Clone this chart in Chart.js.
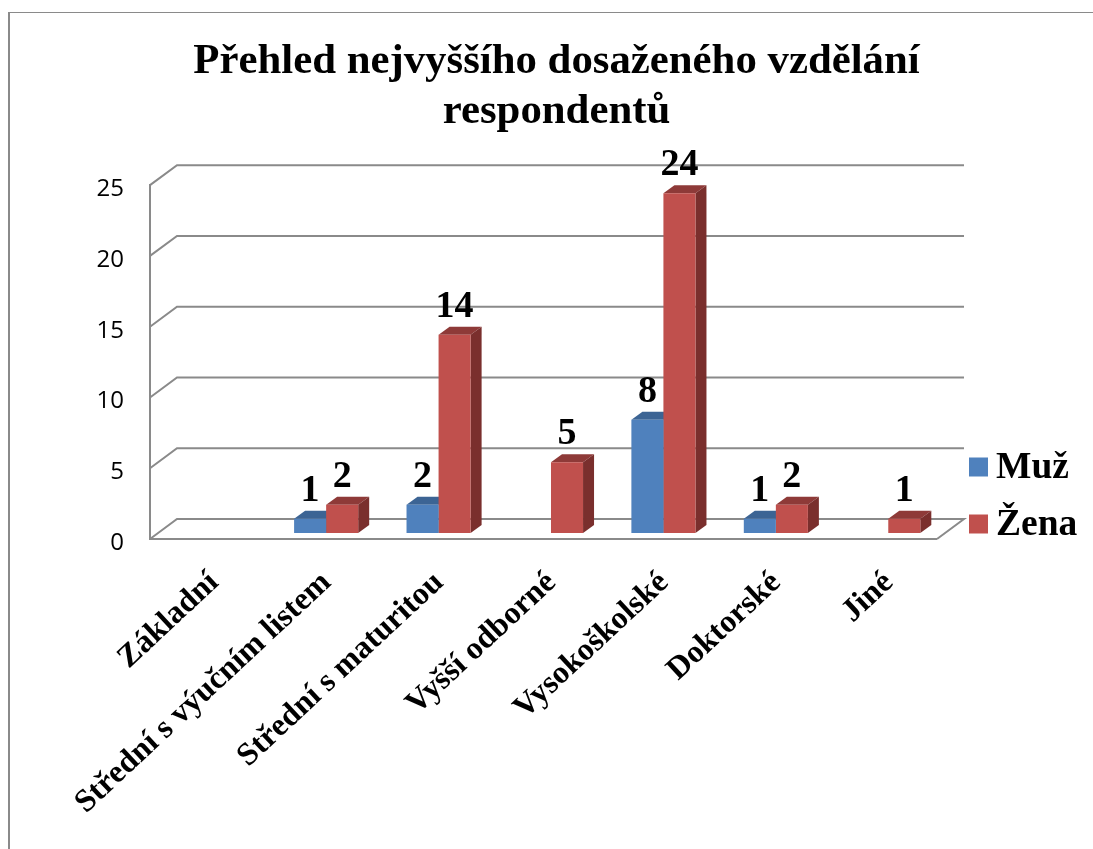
<!DOCTYPE html>
<html lang="cs">
<head>
<meta charset="utf-8">
<title>Přehled nejvyššího dosaženého vzdělání respondentů</title>
<script src="https://cdn.jsdelivr.net/npm/chart.js@4/dist/chart.umd.min.js"></script>
<style>
html,body{margin:0;padding:0;background:#fff;overflow:hidden;width:1093px;height:849px}
#frame{position:absolute;left:8px;top:12px;right:0;bottom:0;border-left:2px solid #8a8a8a;border-top:1px solid #8a8a8a}
#c{position:absolute;left:0;top:0}
</style>
</head>
<body>
<div id="frame"></div>
<canvas id="c" width="1093" height="849"></canvas>
<script>
const titleLines = ["Přehled nejvyššího dosaženého vzdělání", "respondentů"];
const categories = ["Základní", "Střední s výučním listem", "Střední s maturitou", "Vyšší odborné", "Vysokoškolské", "Doktorské", "Jiné"];
const muz = [null, 1, 2, null, 8, 1, null];
const zena = [null, 2, 14, 5, 24, 2, 1];
const seriesNames = ["Muž", "Žena"];
const yMax = 25;
const yStep = 5;

const wall = {dx: 27, dy: -20, color: "#8a8a8a", width: 2};
const barShift = {x: 7.5, y: -6};
const depth = {dx: 11, dy: -8};
const faces = [
  {front: "#4F81BD", top: "#3C6494", side: "#2F4F75"},
  {front: "#C0504D", top: "#8E3A38", side: "#7A2F2D"}
];
const serif = "'Liberation Serif', serif";

const plugin3d = {
  id: "plugin3d",
  afterLayout(chart) {
    const lg = chart.legend;
    const pad = lg.options.labels.padding;
    lg.left = 969 - pad;
    lg.top = 449 - pad;
    lg.adjustHitBoxes();
  },
  beforeDatasetsDraw(chart) {
    const {ctx, scales: {y}, chartArea: a} = chart;
    ctx.save();
    ctx.strokeStyle = wall.color;
    ctx.lineWidth = wall.width;
    y.ticks.forEach(t => {
      const py = y.getPixelForValue(t.value);
      ctx.beginPath();
      ctx.moveTo(a.left, py);
      ctx.lineTo(a.left + wall.dx, py + wall.dy);
      ctx.lineTo(a.right + wall.dx, py + wall.dy);
      if (t.value === 0) ctx.lineTo(a.right, py);
      ctx.stroke();
    });
    ctx.restore();

    ctx.save();
    ctx.translate(barShift.x, barShift.y);
    chart.data.datasets.forEach((ds, i) => {
      const f = faces[i];
      chart.getDatasetMeta(i).data.forEach((el, j) => {
        if (ds.data[j] === null) return;
        const l = el.x - el.width / 2, r = el.x + el.width / 2, t = el.y, b = el.base;
        ctx.fillStyle = f.top;
        ctx.beginPath();
        ctx.moveTo(l, t);
        ctx.lineTo(l + depth.dx, t + depth.dy);
        ctx.lineTo(r + depth.dx, t + depth.dy);
        ctx.lineTo(r, t);
        ctx.closePath();
        ctx.fill();
        ctx.fillStyle = f.side;
        ctx.beginPath();
        ctx.moveTo(r, t);
        ctx.lineTo(r + depth.dx, t + depth.dy);
        ctx.lineTo(r + depth.dx, b + depth.dy);
        ctx.lineTo(r, b);
        ctx.closePath();
        ctx.fill();
      });
    });
    // fronts are drawn by the library inside this translation
  },
  afterDatasetsDraw(chart) {
    const {ctx} = chart;
    ctx.fillStyle = "#000";
    ctx.font = "bold 38px " + serif;
    ctx.textAlign = "center";
    ctx.textBaseline = "alphabetic";
    chart.data.datasets.forEach((ds, i) => {
      chart.getDatasetMeta(i).data.forEach((el, j) => {
        if (ds.data[j] === null) return;
        ctx.fillText(String(ds.data[j]), el.x, el.y - 18);
      });
    });
    ctx.restore();
  },
  afterDraw(chart) {
    // legend text sits closer to its swatch than the built-in gap allows
    const {ctx} = chart;
    ctx.save();
    ctx.fillStyle = "#000";
    ctx.font = "bold 37.5px " + serif;
    ctx.textAlign = "left";
    ctx.textBaseline = "alphabetic";
    seriesNames.forEach((name, i) => {
      ctx.fillText(name, 996, 478 + i * 57);
    });
    ctx.restore();
  }
};

new Chart(document.getElementById("c"), {
  type: "bar",
  data: {
    labels: categories,
    datasets: [
      {label: seriesNames[0], data: muz, backgroundColor: faces[0].front, borderWidth: 0},
      {label: seriesNames[1], data: zena, backgroundColor: faces[1].front, borderWidth: 0}
    ]
  },
  options: {
    responsive: false,
    animation: false,
    layout: {padding: {left: 30, right: 10, top: 0, bottom: 0}},
    categoryPercentage: 0.57,
    barPercentage: 1,
    scales: {
      x: {
        grid: {display: false},
        border: {display: true, color: wall.color, width: wall.width},
        ticks: {
          color: "#000",
          font: {family: serif, size: 32, weight: "bold"},
          minRotation: 43,
          maxRotation: 43,
          padding: 17,
          labelOffset: 8,
          autoSkip: false
        },
        afterFit(s) {
          s.height = 310;
          s.paddingLeft = s.paddingRight = s.paddingTop = s.paddingBottom = 0;
        }
      },
      y: {
        min: 0,
        max: yMax,
        grid: {display: false, drawTicks: false},
        border: {display: true, color: wall.color, width: wall.width},
        ticks: {
          stepSize: yStep,
          color: "#000",
          font: {family: "'Open Sans', sans-serif", size: 24},
          padding: 26,
          labelOffset: 4
        },
        afterFit(s) {
          s.width = 120;
          s.paddingLeft = s.paddingRight = s.paddingTop = s.paddingBottom = 0;
        }
      }
    },
    plugins: {
      title: {
        display: true,
        text: titleLines,
        color: "#000",
        font: {family: serif, size: 42.8, weight: "bold", lineHeight: 1.17},
        padding: {top: 37, bottom: 48}
      },
      legend: {
        display: true,
        position: "right",
        align: "start",
        maxWidth: 156,
        labels: {
          boxWidth: 19,
          boxHeight: 19,
          padding: 21,
          color: "rgba(0,0,0,0)",
          font: {family: serif, size: 36, weight: "bold"}
        }
      },
      tooltip: {enabled: false}
    }
  },
  plugins: [plugin3d]
});
</script>
</body>
</html>
